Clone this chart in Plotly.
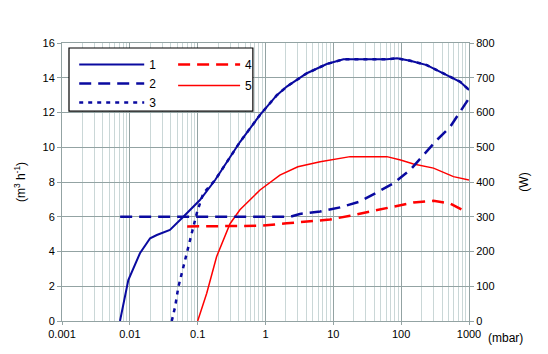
import plotly.graph_objects as go

# ---- data ----
p1 = [0.00716, 0.0095, 0.0141, 0.0199, 0.025, 0.039, 0.0615, 0.108, 0.18, 0.42, 0.83,
      1.47, 2.06, 4.07, 8.0, 14.1, 24.8, 61.6, 87, 136, 239, 420, 740, 1000]
s1 = [0, 2.36, 3.9, 4.76, 4.95, 5.24, 6.0, 6.96, 8.1, 10.3, 11.86,
      13.0, 13.49, 14.26, 14.79, 15.06, 15.06, 15.06, 15.12, 14.98, 14.73, 14.26, 13.77, 13.3]

p2 = [0.0072, 0.5, 1.04, 2.3, 3.2, 6.4, 12.6, 24.8, 43.8, 77, 136, 239, 337, 528, 740, 1000]
w2 = [300, 300, 300, 300, 308, 315, 327, 344, 370, 396, 435, 487, 521, 559, 603, 641]

p3 = [0.0415, 0.0465, 0.052, 0.069, 0.082, 0.097, 0.121, 0.18, 0.42, 0.83,
      1.47, 2.06, 4.07, 8.0, 14.1, 24.8, 61.6, 87, 136, 239, 420, 740, 1000]
s3 = [0, 0.82, 1.97, 3.9, 5.05, 6.2, 7.35, 8.1, 10.3, 11.86,
      13.0, 13.49, 14.26, 14.79, 15.06, 15.06, 15.06, 15.12, 14.98, 14.73, 14.26, 13.77, 13.3]

p4 = [0.07, 0.83, 2.05, 4.5, 8.9, 17.7, 34.8, 77, 152, 300, 528, 790]
w4 = [272, 274, 281, 288, 292, 303, 314, 329, 341, 346, 338, 320]

p5 = [0.1, 0.136, 0.19, 0.3, 0.42, 0.83, 1.63, 3.0, 6.4, 17.7, 61.6, 98, 152, 300, 590, 1000]
s5 = [0, 1.6, 3.7, 5.6, 6.4, 7.54, 8.4, 8.88, 9.17, 9.46, 9.46, 9.27, 9.04, 8.8, 8.31, 8.12]

x_ticks = [0.001, 0.01, 0.1, 1, 10, 100, 1000]
x_ticktext = ["0.001", "0.01", "0.1", "1", "10", "100", "1000"]
x_minor = [m * 10 ** e for e in range(-3, 3) for m in range(2, 10)]

BLUE = "#0a0aa0"
RED = "#ff0000"
GRID = "#93a3a3"
MINOR = "#cad7d7"
FONT = "Liberation Sans, Arial, sans-serif"

fig = go.Figure()
fig.add_trace(go.Scatter(x=p1, y=s1, name="1", mode="lines",
                         line=dict(color=BLUE, width=2), legend="legend"))
fig.add_trace(go.Scatter(x=p2, y=w2, name="2", mode="lines", yaxis="y2",
                         line=dict(color=BLUE, width=2.5, dash="12px,7px"), legend="legend"))
fig.add_trace(go.Scatter(x=p3, y=s3, name="3", mode="lines",
                         line=dict(color=BLUE, width=2.5, dash="4px,5px"), legend="legend"))
fig.add_trace(go.Scatter(x=p4, y=w4, name="4", mode="lines", yaxis="y2",
                         line=dict(color=RED, width=2.5, dash="12px,7px"),
                         legend="legend2", legendgroup="g4"))
fig.add_trace(go.Scatter(x=p5, y=s5, name="5", mode="lines",
                         line=dict(color=RED, width=1.5),
                         legend="legend2", legendgroup="g5"))

fig.update_layout(
    width=548, height=354,
    margin=dict(l=62, r=79, t=43, b=33),
    paper_bgcolor="white", plot_bgcolor="white",
    font=dict(family=FONT, size=11, color="black"),
    xaxis=dict(type="log", range=[-3, 3], tickvals=x_ticks, ticktext=x_ticktext,
               showgrid=True, gridcolor=GRID, gridwidth=1,
               minor=dict(tickvals=x_minor, showgrid=True, gridcolor=MINOR, gridwidth=1),
               showline=True, linecolor=GRID, mirror=True,
               ticks="outside", ticklen=3, tickcolor=GRID, zeroline=False),
    yaxis=dict(range=[0, 16], dtick=2, showgrid=True, gridcolor=GRID,
               showline=True, linecolor=GRID, ticks="outside", ticklen=4, tickcolor=GRID,
               zeroline=False,
               title=dict(text="(m<sup>3</sup> h<sup>-1</sup>)", font=dict(size=12), standoff=14)),
    yaxis2=dict(range=[0, 800], dtick=100, overlaying="y", side="right", showgrid=False,
                showline=True, linecolor=GRID, ticks="outside", ticklen=4, tickcolor=GRID,
                zeroline=False,
                title=dict(text="(W)", font=dict(size=12), standoff=26)),
    legend=dict(x=0.03, y=0.975, xanchor="left", yanchor="top", bgcolor="rgba(0,0,0,0)",
                font=dict(size=12), itemwidth=65, tracegroupgap=0),
    legend2=dict(x=0.273, y=0.975, xanchor="left", yanchor="top", bgcolor="rgba(0,0,0,0)",
                 font=dict(size=12), itemwidth=62, tracegroupgap=2),
    shapes=[dict(type="rect", xref="paper", yref="paper", x0=0.0172, x1=0.469,
                 y0=0.755, y1=0.982, line=dict(color="black", width=1.2),
                 fillcolor="white", layer="above")],
    annotations=[dict(text="(mbar)", xref="paper", yref="paper", x=1.0, y=0,
                      xanchor="left", yanchor="top", xshift=17, yshift=-8,
                      showarrow=False, font=dict(size=12))],
)

fig.write_html("out.html")
